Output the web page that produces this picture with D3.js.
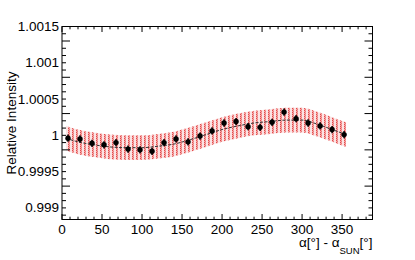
<!DOCTYPE html>
<html>
<head>
<meta charset="utf-8">
<script src="https://cdn.jsdelivr.net/npm/d3@7"></script>
<style>
body { margin: 0; background: #fff; }
text { font-family: "Liberation Sans", Arial, sans-serif; }
</style>
</head>
<body>
<script>
// data points (bin centres, deg) and measured relative intensity
var angles = [7.5, 22.5, 37.5, 52.5, 67.5, 82.5, 97.5, 112.5, 127.5, 142.5, 157.5, 172.5,
              187.5, 202.5, 217.5, 232.5, 247.5, 262.5, 277.5, 292.5, 307.5, 322.5, 337.5, 352.5]
var intensity = [0.99996, 0.99995, 0.99989, 0.99987, 0.99990, 0.99981, 0.99980, 0.99978,
                 0.99990, 0.99995, 0.99991, 0.99999, 1.00006, 1.00017, 1.00019, 1.00012,
                 1.00011, 1.00018, 1.00032, 1.00023, 1.00017, 1.00013, 1.00008, 1.00001]
var errors = [0.00005, 0.00005, 0.00005, 0.00005, 0.00005, 0.00005, 0.00005, 0.00005,
              0.00005, 0.00005, 0.00005, 0.00005, 0.00005, 0.00005, 0.00005, 0.00005,
              0.00005, 0.00005, 0.00005, 0.00005, 0.00005, 0.00005, 0.00005, 0.00005]
// fitted curve, with its band half-width
var fitX = [5, 20, 40, 60, 80, 100, 120, 140, 160, 180, 200, 220, 240, 260, 280, 300, 320, 340, 355]
var fitY = [0.99996, 0.99991, 0.99987, 0.99984, 0.99983, 0.99983, 0.99985, 0.99988, 0.99994, 1.00001,
            1.00008, 1.00013, 1.00017, 1.00019, 1.00021, 1.00021, 1.00015, 1.00007, 1.00001]
var fitErr = [0.00017, 0.00017, 0.00017, 0.00017, 0.00017, 0.00017, 0.00017, 0.00017, 0.00017, 0.00017,
              0.00017, 0.00017, 0.00017, 0.00017, 0.00017, 0.00017, 0.00017, 0.00017, 0.00017]
var yTicks = [0.999, 0.9995, 1, 1.0005, 1.001, 1.0015]
var yTickLabels = ["0.999", "0.9995", "1", "1.0005", "1.001", "1.0015"]
var xTicks = [0, 50, 100, 150, 200, 250, 300, 350]

var W = 415, H = 260
var pLeft = 62, pRight = 372.5, pTop = 26.5, pBottom = 219.5

var svg = d3.select("body").append("svg")
.attr("width", W)
.attr("height", H)

var x = d3.scaleLinear().domain([0, 388]).range([pLeft, pRight])
var y = d3.scaleLinear().domain([0.99884, 1.0015]).range([pBottom, pTop])

// hatch pattern for the fit band (light vertical dotted stripes)
var defs = svg.append("defs")
var pat = defs.append("pattern")
.attr("id", "hatch")
.attr("patternUnits", "userSpaceOnUse")
.attr("width", 4)
.attr("height", 2)
pat.append("rect").attr("x", 0).attr("y", 0).attr("width", 4).attr("height", 2).attr("fill", "#fbe4e4")
pat.append("rect").attr("x", 0).attr("y", 0).attr("width", 2).attr("height", 2).attr("fill", "#f4a8a8")
pat.append("rect").attr("x", 0).attr("y", 0).attr("width", 1).attr("height", 1).attr("fill", "#e44a4a")
pat.append("rect").attr("x", 1).attr("y", 1).attr("width", 1).attr("height", 1).attr("fill", "#ec7a7a")

var band = d3.area()
.x(function(d, i) { return x(fitX[i]) })
.y0(function(d, i) { return y(fitY[i] - fitErr[i]) })
.y1(function(d, i) { return y(fitY[i] + fitErr[i]) })
.curve(d3.curveMonotoneX)
svg.append("path")
.attr("d", band(fitX))
.attr("fill", "url(#hatch)")

var line = d3.line()
.x(function(d, i) { return x(fitX[i]) })
.y(function(d, i) { return y(fitY[i]) })
.curve(d3.curveMonotoneX)
svg.append("path")
.attr("d", line(fitX))
.attr("fill", "none")
.attr("stroke", "#333")
.attr("stroke-width", 1)
.attr("stroke-dasharray", "3,1.5")

// points with error bars
var pts = svg.append("g")
for (var i = 0; i < angles.length; i++)
{
pts.append("line")
.attr("x1", x(angles[i])).attr("x2", x(angles[i]))
.attr("y1", y(intensity[i] - errors[i]))
.attr("y2", y(intensity[i] + errors[i]))
.attr("stroke", "#000")
.attr("stroke-width", 1.5)
pts.append("circle")
.attr("cx", x(angles[i]))
.attr("cy", y(intensity[i]))
.attr("r", 2.7)
.attr("fill", "#000")
}

// ticks (ROOT style, inward, on all four sides)
var ax = svg.append("g").attr("stroke", "#000").attr("stroke-width", 1)
d3.range(0, 389, 10).forEach(function(v) {
var major = v % 50 == 0
var len = major ? 5.5 : 2.8
ax.append("line").attr("x1", x(v)).attr("x2", x(v)).attr("y1", pBottom).attr("y2", pBottom - len)
ax.append("line").attr("x1", x(v)).attr("x2", x(v)).attr("y1", pTop).attr("y2", pTop + len)
})
d3.range(0, 27).forEach(function(k) {
var v = 0.9989 + k * 0.0001
var major = (k + 1) % 5 == 0
var len = major ? 8 : 4
ax.append("line").attr("x1", pLeft).attr("x2", pLeft + len).attr("y1", y(v)).attr("y2", y(v))
ax.append("line").attr("x1", pRight).attr("x2", pRight - len).attr("y1", y(v)).attr("y2", y(v))
})

svg.append("rect")
.attr("x", pLeft).attr("y", pTop)
.attr("width", pRight - pLeft).attr("height", pBottom - pTop)
.attr("fill", "none")
.attr("stroke", "#000")
.attr("stroke-width", 1)

// tick labels
yTicks.forEach(function(v, i) {
svg.append("text")
.attr("x", pLeft - 3)
.attr("y", y(v))
.attr("text-anchor", "end")
.attr("dominant-baseline", "central")
.style("font-size", "13.5px")
.text(yTickLabels[i])
})
xTicks.forEach(function(v) {
svg.append("text")
.attr("x", x(v))
.attr("y", 233.5)
.attr("text-anchor", "middle")
.style("font-size", "13.5px")
.text(v)
})

// axis titles
svg.append("text")
.attr("transform", "translate(16," + ((pTop + pBottom) / 2) + ") rotate(-90)")
.attr("text-anchor", "middle")
.style("font-size", "13.5px")
.text("Relative Intensity")

var xt = svg.append("text")
.attr("x", pRight)
.attr("y", 247)
.attr("text-anchor", "end")
.style("font-size", "13.5px")
xt.append("tspan").text("α[°] - α")
xt.append("tspan").attr("dy", 7).style("font-size", "9.5px").text("SUN")
xt.append("tspan").attr("dy", -7).text("[°]")
</script>
</body>
</html>
